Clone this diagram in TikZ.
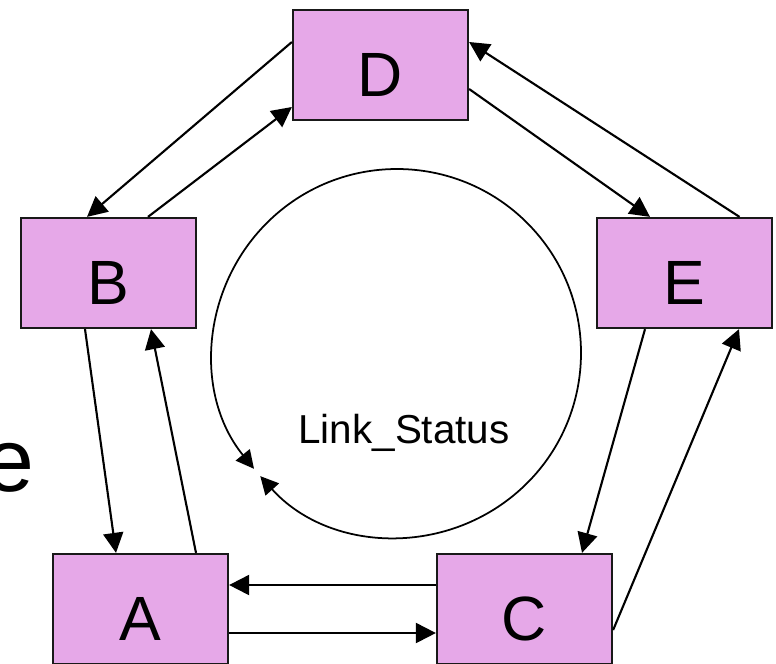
\documentclass[tikz,border=0pt]{standalone}
\usepackage{fontspec}
\setmainfont{Liberation Sans}
\usepackage{tikz}
\usetikzlibrary{arrows.meta,calc}
\definecolor{boxpink}{RGB}{230,168,232}

\begin{document}
\begin{tikzpicture} [x = 0.02cm, y = -0.02cm,
	state/.style = {draw = black!90, line width = 1.3pt, fill = boxpink,
		minimum width = 3.5cm, minimum height = 2.2cm, inner sep = 0pt,
		text height = 35.6pt, text depth = 0pt, font = \fontsize{35.6}{40}\selectfont},
	link/.style = {line width = 1.2pt, -{Triangle[length = 0.4cm, width = 0.4cm]}}]
	\useasboundingbox (0,0) rectangle (776,663);
	% the five boxes
	\node [state] (D) at (380.5,65) {D};
	\node [state] (B) at (108.5,273) {B};
	\node [state] (E) at (684.5,273) {E};
	\node [state] (A) at (140.5,609) {A};
	\node [state] (C) at (524.5,609) {C};
	% links between neighbours
	\draw [link] ($(D.west)+(0,-23)$) -- ($(B.north)+(-21.5,0)$);
	\draw [link] ($(B.north)+(39.5,0)$) -- ($(D.west)+(0,42)$);
	\draw [link] ($(E.north)+(55,0)$) -- ($(D.east)+(0,-23)$);
	\draw [link] ($(D.east)+(0,24)$) -- ($(E.north)+(-34.5,0)$);
	\draw [link] ($(B.south)+(-23.5,0)$) -- ($(A.north)+(-24.5,0)$);
	\draw [link] ($(A.north)+(55.5,0)$) -- ($(B.south)+(42.5,0)$);
	\draw [link] ($(C.west)+(0,-24)$) -- ($(A.east)+(0,-24)$);
	\draw [link] ($(A.east)+(0,24)$) -- ($(C.west)+(0,24)$);
	\draw [link] ($(E.south)+(-39.5,0)$) -- ($(C.north)+(57.5,0)$);
	\draw [link] ($(C.east)+(0,21)$) -- ($(E.south)+(54.5,0)$);
	% the ring
	\coordinate (hub) at (397,353);
	\draw [line width = 1pt, {Triangle[length = 0.36cm, width = 0.36cm]}-{Triangle[length = 0.36cm, width = 0.36cm]}]
		($(hub)+(138:184)$) arc [start angle = 138, end angle = -219, radius = 184];
	\node (status) at (404,443) [anchor = base, font = \fontsize{23}{28}\selectfont] {Link\_Status};
	\node (cut) at (35,491) [anchor = base east, inner sep = 0pt, font = \fontsize{51}{60}\selectfont] {e};
\end{tikzpicture}
\end{document}
